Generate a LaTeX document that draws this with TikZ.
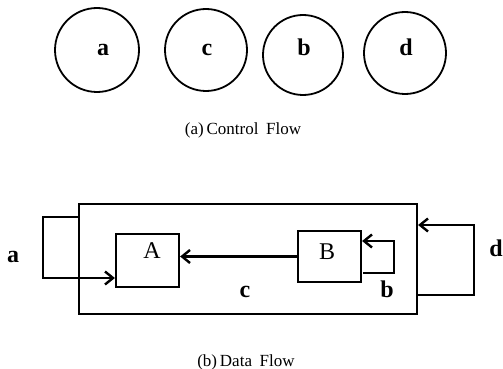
\documentclass[tikz,border=0pt]{standalone}
\usepackage{fontspec}
\setmainfont{Liberation Serif}
\usetikzlibrary{arrows.meta}
\begin{document}
\begin{tikzpicture}[x=1pt,y=-1pt,
  line width=2.2pt,
  circ/.style={draw,circle,minimum size=#1,inner sep=0pt,line width=1.8pt},
  blk/.style={draw,rectangle,inner sep=0pt},
  lbl/.style={font=\fontsize{24}{26}\selectfont\bfseries,anchor=base,inner sep=0pt},
  captxt/.style={font=\fontsize{17}{19}\selectfont,anchor=base,inner sep=0pt},
  arr/.style={-{Straight Barb[length=8pt,width=13pt,line width=2.4pt]}}]
\useasboundingbox (0,0) rectangle (503,369);
% (a) control flow
\node[circ=84pt] (ca) at (97,50) {};
\node[circ=82pt] (cc) at (206,50) {};
\node[circ=80pt] (cb) at (303,55) {};
\node[circ=82pt] (cd) at (405,53) {};
\node[lbl] (la) at (103,56) {a};
\node[lbl] (lc) at (207,56) {c};
\node[lbl] (lb) at (304,56) {b};
\node[lbl] (ld) at (406,56) {d};
\node[captxt] (capa) at (243,134) {(a)\,Control\hspace{0.45em}Flow};
% (b) data flow
\node[blk,minimum width=338pt,minimum height=110pt] (outer) at (248,259) {};
\node[blk,minimum width=63pt,minimum height=53pt] (A) at (147.5,260.5) {};
\node[blk,minimum width=63pt,minimum height=51pt] (B) at (329.5,256.5) {};
\node[lbl,font=\fontsize{24}{26}\selectfont] (tA) at (152,258) {A};
\node[lbl,font=\fontsize{24}{26}\selectfont] (tB) at (327,259) {B};
% c
\draw[arr] (B.west) -- (B.west -| A.east);
\node[lbl] (tc) at (245,297) {c};
% a loop
\coordinate (a1) at (outer.north west |- 0,217);
\coordinate (a2) at (43,217);
\coordinate (a3) at (43,278);
\coordinate (a4) at (A.west |- 0,278);
\draw[arr] (a1) -- (a2) -- (a3) -- (a4);
\node[lbl] (ta) at (13,262) {a};
% b loop
\coordinate (b1) at (363,273);
\coordinate (b2) at (394,273);
\coordinate (b3) at (394,241);
\coordinate (b4) at (B.east |- 0,241);
\draw[arr] (b1) -- (b2) -- (b3) -- (b4);
\node[lbl] (tb) at (387,297) {b};
% d loop
\coordinate (d1) at (outer.east |- 0,295);
\coordinate (d2) at (474,295);
\coordinate (d3) at (474,225);
\coordinate (d4) at (outer.east |- 0,225);
\draw[arr] (d1) -- (d2) -- (d3) -- (d4);
\node[lbl] (td) at (496,256) {d};
\node[captxt] (capb) at (246,366) {(b)\,Data\hspace{0.45em}Flow};
\end{tikzpicture}
\end{document}
